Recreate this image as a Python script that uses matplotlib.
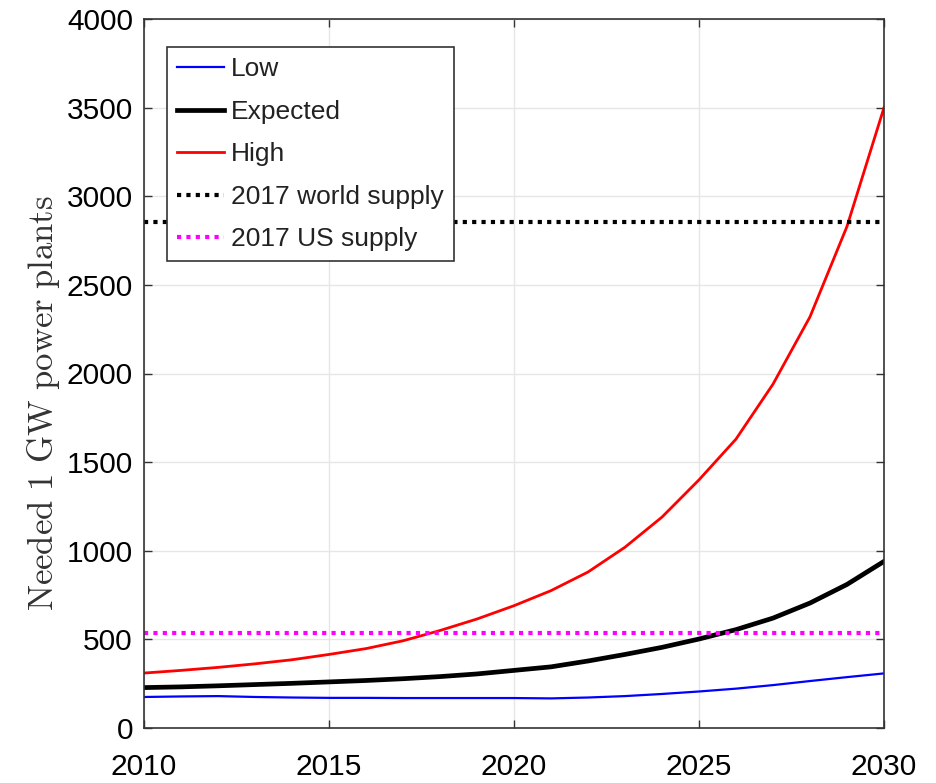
import matplotlib
matplotlib.use('Agg')
from matplotlib import pyplot as plt
import numpy as np

# data
years = [2010, 2011, 2012, 2013, 2014, 2015, 2016, 2017, 2018, 2019, 2020,
         2021, 2022, 2023, 2024, 2025, 2026, 2027, 2028, 2029, 2030]
low = [175, 178, 180, 175, 172, 170, 170, 169, 169, 169, 169,
       167, 172, 180, 192, 206, 222, 242, 265, 287, 308]
expected = [228, 232, 238, 245, 252, 260, 268, 278, 290, 305, 325,
            345, 378, 415, 455, 502, 555, 620, 705, 810, 940]
high = [310, 325, 342, 362, 385, 415, 448, 492, 550, 615, 690,
        775, 880, 1020, 1190, 1400, 1630, 1940, 2320, 2830, 3500]
world_supply = 2855
us_supply = 537

xticks = [2010, 2015, 2020, 2025, 2030]
yticks = [0, 500, 1000, 1500, 2000, 2500, 3000, 3500, 4000]


def main():
    plt.rcParams['font.family'] = ['Liberation Sans', 'DejaVu Sans']
    plt.rcParams['mathtext.fontset'] = 'cm'

    fig = plt.figure(figsize=(9.36, 7.83), dpi=100)
    ax = fig.add_axes([144/936, 1-728/783, (884-144)/936, (728-19)/783])

    dots = (0, (1.0, 1.25))
    ax.plot(years, low, color='#0000ff', lw=1.6, label='Low')
    ax.plot(years, expected, color='black', lw=3.4, label='Expected')
    ax.plot(years, high, color='#ff0000', lw=2.0, label='High')
    ax.axhline(world_supply, color='black', lw=3.0, ls=dots,
               label='2017 world supply')
    ax.axhline(us_supply, color='#ff00ff', lw=3.0, ls=dots,
               label='2017 US supply')

    ax.set_xlim(2010, 2030)
    ax.set_ylim(0, 4000)
    ax.set_xticks(xticks)
    ax.set_yticks(yticks)
    ax.grid(True, color='#e6e6e6', lw=1.0)
    ax.tick_params(direction='in', top=True, right=True, length=6,
                   width=1.0, color='#333333', labelsize=21.5)
    ax.tick_params(axis='x', pad=18)
    ax.tick_params(axis='y', pad=8)
    for s in ax.spines.values():
        s.set_color('#333333')
        s.set_linewidth(1.2)

    ax.set_ylabel(r'$\mathrm{Needed\ 1\ GW\ power\ plants}$', fontsize=25,
                  color='#333333')
    ax.yaxis.set_label_coords(-0.111, 0.458)

    leg = ax.legend(loc='upper left', bbox_to_anchor=(0.031, 0.96),
                    fontsize=19, frameon=True, fancybox=False, framealpha=1.0,
                    edgecolor='#333333', handlelength=1.8, handletextpad=0.25,
                    labelspacing=0.7, borderpad=0.38, borderaxespad=0.0)
    leg.get_frame().set_linewidth(1.2)
    leg.set_zorder(5)
    for t in leg.get_texts():
        t.set_color('#222222')

    fig.savefig('out.png', dpi=100)


if __name__ == "__main__":
    main()
